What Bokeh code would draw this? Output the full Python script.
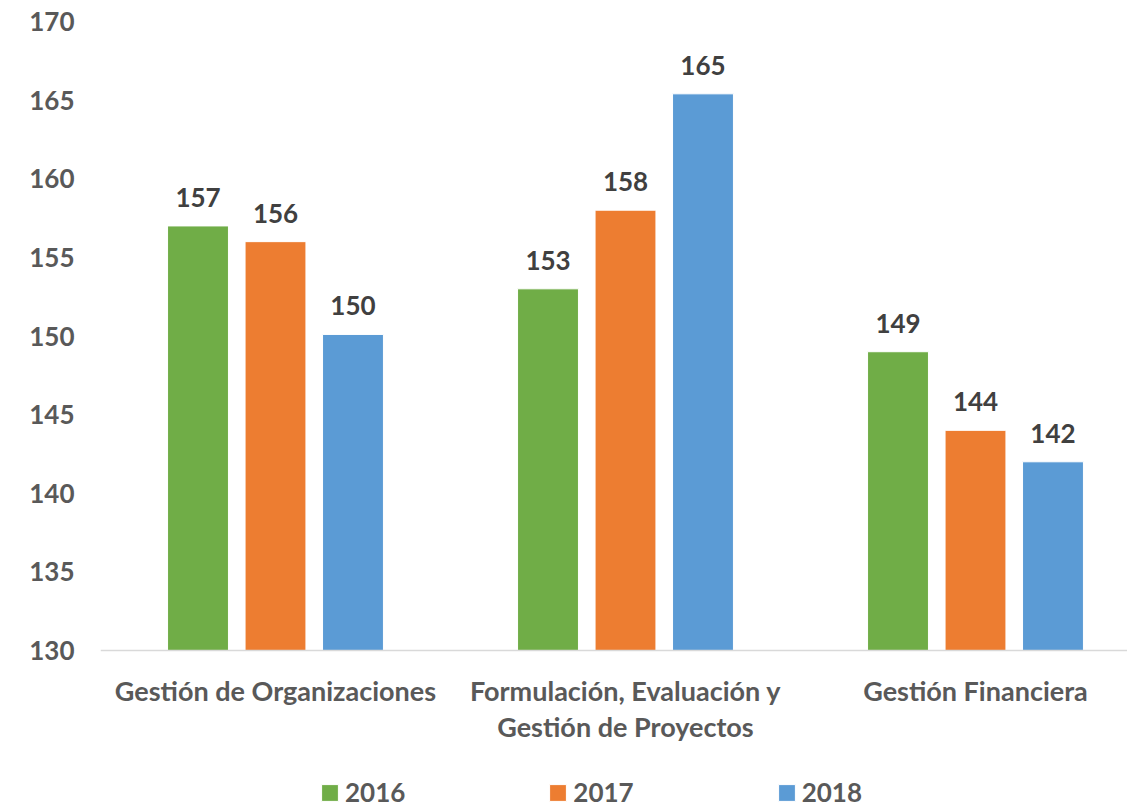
from bokeh.plotting import figure
from bokeh.models import ColumnDataSource, Range1d, LabelSet, Legend, LegendItem, FixedTicker
from bokeh.core.properties import value
from bokeh.embed import file_html
from bokeh.resources import INLINE

categories = ["Gestión de Organizaciones", "Formulación, Evaluación y\nGestión de Proyectos", "Gestión Financiera"]
years = ["2016", "2017", "2018"]
values_2016 = [157, 153, 149]
values_2017 = [156, 158, 144]
values_2018 = [150.1, 165.4, 142]
colors = ["#70AD47", "#ED7D31", "#5B9BD5"]
y_ticks = [130, 135, 140, 145, 150, 155, 160, 165, 170]

FONT = "Lato"
W, H = 1127, 807
LEFT = 100
TOP = 21
UNIT = 350.0
PX_PER_UNIT_Y = 629 / 40.0          # 130 -> 170 spans 629 px
Y_BASE = 130
Y_MIN = Y_BASE - (H - TOP - 629) / PX_PER_UNIT_Y   # room below the base for labels & legend

p = figure(width=W, height=H, output_backend="svg", toolbar_location=None,
           x_range=Range1d(0, (W - LEFT) / UNIT), y_range=Range1d(Y_MIN, 170),
           min_border_left=LEFT, min_border_right=0, min_border_top=TOP, min_border_bottom=0)
p.outline_line_color = None
p.xgrid.visible = False
p.ygrid.visible = False

series = [values_2016, values_2017, values_2018]
offsets = [-0.2214, 0.0, 0.2214]
bw = 0.174
renderers = []
for vals, off, col in zip(series, offsets, colors):
    xs = [i + 0.5 + off for i in range(len(categories))]
    src = ColumnDataSource(dict(x=xs, top=vals, lbl=[f"{v:.0f}" for v in vals]))
    r = p.vbar(x="x", top="top", bottom=Y_BASE, width=bw, source=src,
               fill_color=col, line_color="white", line_width=1)
    renderers.append(r)
    p.add_layout(LabelSet(x="x", y="top", text="lbl", source=src, y_offset=19,
                          text_align="center", text_baseline="bottom",
                          text_font=value(FONT), text_font_style="bold", text_font_size="26px",
                          text_color="#404040"))

# y axis
p.yaxis.ticker = FixedTicker(ticks=y_ticks)
p.yaxis.axis_line_color = None
p.yaxis.major_tick_line_color = None
p.yaxis.minor_tick_line_color = None
p.yaxis.major_label_standoff = 20
p.yaxis.major_label_text_font = FONT
p.yaxis.major_label_text_font_style = "bold"
p.yaxis.major_label_text_font_size = "26px"
p.yaxis.major_label_text_color = "#595959"

# x axis, drawn at the 130 baseline
p.xaxis.fixed_location = Y_BASE
p.xaxis.ticker = FixedTicker(ticks=[i + 0.5 for i in range(len(categories))])
p.xaxis.major_label_overrides = {i + 0.5: c for i, c in enumerate(categories)}
p.xaxis.axis_line_color = "#D9D9D9"
p.xaxis.axis_line_width = 1.5
p.xaxis.major_tick_line_color = None
p.xaxis.minor_tick_line_color = None
p.xaxis.major_label_standoff = 17
p.xaxis.major_label_text_font = FONT
p.xaxis.major_label_text_font_style = "bold"
p.xaxis.major_label_text_font_size = "27px"
p.xaxis.major_label_text_color = "#595959"
p.xaxis.major_label_text_line_height = 1.11

legend = Legend(items=[LegendItem(label=y, renderers=[r]) for y, r in zip(years, renderers)],
                orientation="horizontal", location=(219, -1),
                label_text_font=FONT, label_text_font_style="bold", label_text_font_size="26px",
                label_text_color="#595959", glyph_width=21, glyph_height=21,
                label_standoff=5, spacing=142, border_line_color=None,
                background_fill_alpha=0, margin=0, padding=0)
p.add_layout(legend, "center")

open("out.html", "w").write(file_html(p, INLINE))
